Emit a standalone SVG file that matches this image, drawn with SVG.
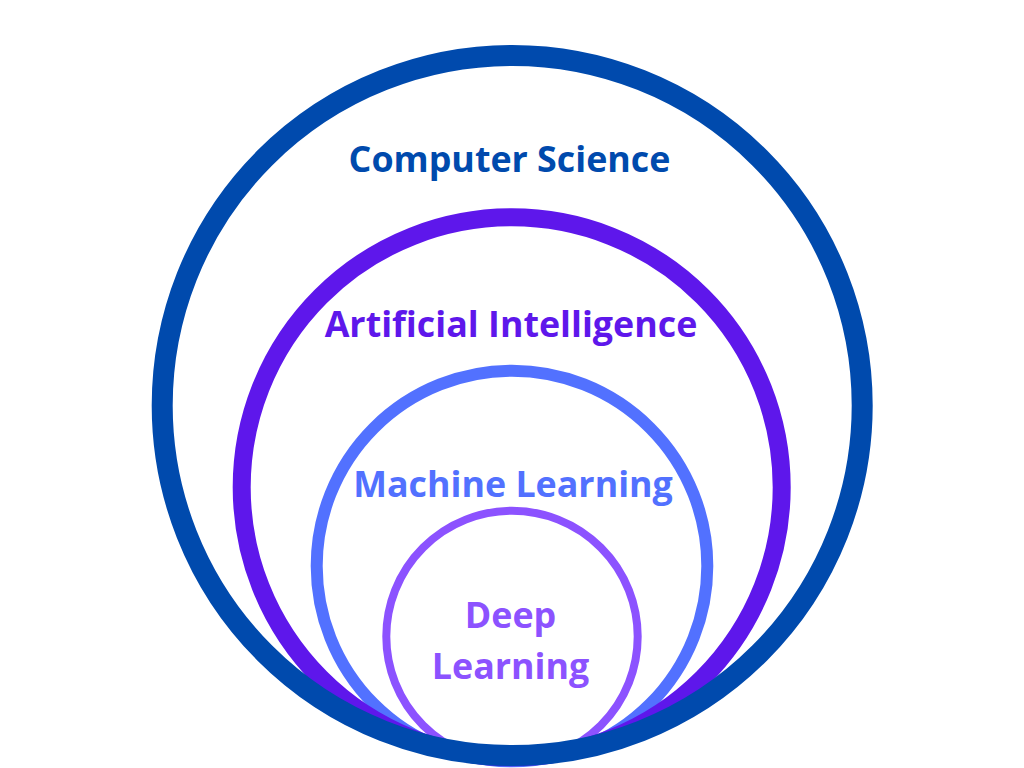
<svg xmlns="http://www.w3.org/2000/svg" width="1024" height="768" viewBox="0 0 1024 768">
  <style>
    .ring { fill: none; }
    .lbl { font-family: "Open Sans", "Liberation Sans", sans-serif; font-weight: 700; font-size: 35.8px; text-anchor: middle; }
  </style>
  <rect width="1024" height="768" fill="#ffffff"/>
  <g id="deep-learning">
    <circle class="ring" cx="512" cy="636.5" r="125.7" stroke="#8C52FF" stroke-width="8"/>
    <text class="lbl" x="510.5" y="628" fill="#8C52FF">Deep</text>
    <text class="lbl" x="510.5" y="679" fill="#8C52FF">Learning</text>
  </g>
  <g id="machine-learning">
    <circle class="ring" cx="512" cy="566" r="195.3" stroke="#5271FF" stroke-width="12"/>
    <text class="lbl" x="513" y="497" fill="#5271FF">Machine Learning</text>
  </g>
  <g id="artificial-intelligence">
    <circle class="ring" cx="511.7" cy="487.3" r="270" stroke="#5E17EB" stroke-width="18"/>
    <text class="lbl" x="511" y="337" fill="#5E17EB">Artificial Intelligence</text>
  </g>
  <g id="computer-science">
    <circle class="ring" cx="512.2" cy="405.5" r="350" stroke="#004AAD" stroke-width="21"/>
    <text class="lbl" x="509.5" y="172" fill="#004AAD">Computer Science</text>
  </g>
  <g id="connectors"></g>
</svg>
